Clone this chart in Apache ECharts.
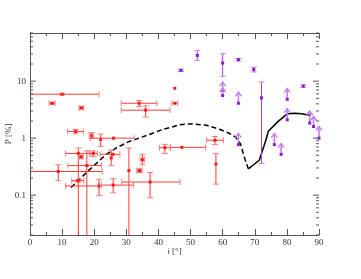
<!DOCTYPE html>
<html><head><meta charset="utf-8">
<script src="https://cdn.jsdelivr.net/npm/echarts@6/dist/echarts.min.js"></script>
<style>html,body{margin:0;padding:0;background:#fff;}#c{width:361px;height:279px;}</style>
</head><body><div id="c"></div>
<script>
// ---- red measurements: inclination i, polarisation P, error bounds (null = none)
const redI   = [10.0, 6.9, 16.0, 34.0, 36.0, 45.1, 45.1, 14.2, 19.1, 22.0, 26.0, 15.05, 15.9, 19.7, 17.7, 8.8, 15.0, 21.5, 25.9, 37.4, 30.8, 35.0, 34.1, 42.0, 47.3, 57.6, 57.9, 25.3, 25.8];
const redP   = [5.9, 4.1, 3.4, 4.1, 3.1, 7.5, 4.1, 1.31, 1.1, 0.95, 1.0, 0.54, 0.47, 0.54, 0.33, 0.26, 0.18, 0.145, 0.15, 0.17, 0.27, 0.42, 0.27, 0.68, 0.69, 0.92, 0.35, 0.45, 0.52];
const redILo = [-1.5, 6.0, 15.3, 28.4, 28.4, null, 44.2, 11.7, 18.5, null, 18.8, 11.1, 15.3, 18.5, 11.8, -4.5, 13.0, 11.1, 22.3, 28.6, null, 34.3, 33.3, 40.3, 43.7, 55.0, null, null, 21.8];
const redIHi = [21.5, 7.8, 16.7, 39.5, 43.6, null, 46.0, 16.6, 19.7, null, 32.5, 18.7, 16.5, 21.0, 22.3, 22.5, 16.8, 21.5, 32.2, 46.7, null, 35.7, 34.9, 43.7, 54.7, 60.2, null, null, 28.0];
const redPLo = [5.7, 3.95, 3.25, 3.6, 2.35, null, null, 1.2, 1.0, 0.72, null, 0.001, 0.44, 0.48, 0.001, 0.18, 0.17, 0.098, 0.11, 0.09, 0.001, 0.34, 0.25, 0.54, null, 0.77, 0.156, 0.33, null];
const redPHi = [6.1, 4.25, 3.55, 4.6, 3.7, null, null, 1.42, 1.25, 1.18, null, 0.67, 0.5, 0.6, 0.6, 0.34, 0.19, 0.19, 0.195, 0.25, 0.67, 0.52, 0.29, 0.78, null, 1.07, 0.54, 0.62, null];

// ---- purple measurements with error bars
const purI   = [47.0, 52.1, 60.0, 64.9, 69.7, 72.1, 85.1];
const purP   = [15.5, 28.3, 20.8, 23.8, 16.0, 5.1, 8.2];
const purPLo = [14.8, 23.2, 12.2, 22.6, 14.5, 0.36, 7.8];
const purPHi = [16.2, 34.6, 30.3, 25.0, 17.6, 9.7, 8.6];

// ---- purple lower limits (base value, arrow tip value)
const limI   = [60.0, 60.0, 64.9, 80.1, 80.1, 87.1, 88.3, 90.0, 64.9, 76.1, 78.2];
const limP   = [6.9, 5.6, 4.1, 4.8, 2.1, 1.84, 1.6, 1.0, 0.77, 0.77, 0.52];
const limTop = [9.6, 7.6, 6.4, 7.4, 3.3, 3.0, 2.4, 1.6, 1.2, 1.2, 0.8];

// ---- model curves
const dashI = [12.8, 17.6, 23.4, 27.0, 31.0, 36.0, 41.0, 46.7, 50.0, 55.0, 59.2, 62.0, 64.0, 65.5, 67.0, 68.0];
const dashP = [0.136, 0.25, 0.5, 0.68, 0.88, 1.1, 1.4, 1.72, 1.78, 1.68, 1.42, 1.22, 1.05, 0.8, 0.42, 0.29];
const solidI = [68.0, 71.4, 73.5, 74.2, 77.3, 80.1, 82.5, 84.5, 86.7, 87.5];
const solidP = [0.29, 0.41, 0.94, 1.32, 1.97, 2.67, 2.73, 2.68, 2.55, 2.55];

// ---- axis ticks
const xTickLabels = [0, 10, 20, 30, 40, 50, 60, 70, 80, 90];
const yTickLabels = [0.1, 1, 10];
const yMinorTicks = [0.02,0.03,0.04,0.05,0.06,0.07,0.08,0.09,0.2,0.3,0.4,0.5,0.6,0.7,0.8,0.9,2,3,4,5,6,7,8,9,20,30,40,50,60,70];

const FONT = 'Liberation Serif';
const AX = '#555';

function nz(v, d){ return v === null ? d : v; }
const redData = redI.map((v,k)=>[v, redP[k], nz(redILo[k],v), nz(redIHi[k],v), nz(redPLo[k],redP[k]), nz(redPHi[k],redP[k])]);
const purData = purI.map((v,k)=>[v, purP[k], v, v, purPLo[k], purPHi[k]]);
const limData = limI.map((v,k)=>[v, limP[k], limTop[k]]);
const tickData = yTickLabels.map(v=>[0, v, 1]).concat(yMinorTicks.map(v=>[0, v, 0]));

function errRender(barColor, capColor, dotColor){
  return function(params, api){
    const r = params.coordSys;
    const L = r.x, R = r.x + r.width, T = r.y, B = r.y + r.height;
    const i = api.value(0), p = api.value(1);
    const il = api.value(2), ih = api.value(3), pl = api.value(4), ph = api.value(5);
    const c = api.coord([i, p]);
    const ch = [];
    const cap = 3;
    const st = {stroke: barColor, lineWidth: 1};
    const cst = {stroke: capColor, lineWidth: 1};
    if (il !== ih) {
      let x1 = api.coord([il, p])[0], x2 = api.coord([ih, p])[0];
      const c1 = x1 >= L, c2 = x2 <= R;
      x1 = Math.max(L, x1); x2 = Math.min(R, x2);
      ch.push({type:'line', shape:{x1:x1, y1:c[1], x2:x2, y2:c[1]}, style:st});
      if (c1) ch.push({type:'line', shape:{x1:x1, y1:c[1]-cap, x2:x1, y2:c[1]+cap}, style:cst});
      if (c2) ch.push({type:'line', shape:{x1:x2, y1:c[1]-cap, x2:x2, y2:c[1]+cap}, style:cst});
    }
    if (pl !== ph) {
      let y1 = api.coord([i, pl])[1], y2 = api.coord([i, ph])[1];
      const c1 = y1 <= B, c2 = y2 >= T;
      y1 = Math.min(B, y1); y2 = Math.max(T, y2);
      ch.push({type:'line', shape:{x1:c[0], y1:y1, x2:c[0], y2:y2}, style:st});
      if (c1) ch.push({type:'line', shape:{x1:c[0]-cap, y1:y1, x2:c[0]+cap, y2:y1}, style:cst});
      if (c2) ch.push({type:'line', shape:{x1:c[0]-cap, y1:y2, x2:c[0]+cap, y2:y2}, style:cst});
    }
    ch.push({type:'rect', shape:{x:c[0]-1.5, y:c[1]-1.5, width:3, height:3}, style:{fill: dotColor}});
    return {type:'group', children: ch};
  };
}

function limRender(params, api){
  const i = api.value(0), p = api.value(1), t = api.value(2);
  const b = api.coord([i, p]), e = api.coord([i, t]);
  const col = '#c27ff0';
  return {type:'group', children:[
    {type:'line', shape:{x1:b[0], y1:b[1], x2:e[0], y2:e[1]}, style:{stroke:col, lineWidth:1.6}},
    {type:'polyline', shape:{points:[[e[0]-3, e[1]+4],[e[0], e[1]],[e[0]+3, e[1]+4]]}, style:{stroke:col, lineWidth:1.4, fill:null}},
    {type:'rect', shape:{x:b[0]-1.5, y:b[1]-1.5, width:3, height:3}, style:{fill:'#9418d6'}}
  ]};
}

function tickRender(params, api){
  const r = params.coordSys;
  const y = api.coord([0, api.value(1)])[1];
  const len = api.value(2) ? 6 : 3;
  const st = {stroke: AX, lineWidth: 1};
  if (y < r.y - 0.5 || y > r.y + r.height + 0.5) return null;
  return {type:'group', children:[
    {type:'line', shape:{x1:r.x, y1:y, x2:r.x+len, y2:y}, style:st},
    {type:'line', shape:{x1:r.x+r.width, y1:y, x2:r.x+r.width-len, y2:y}, style:st}
  ]};
}

const xCommon = {
  type:'value', min:0, max:90, interval:10,
  axisLine:{show:true, lineStyle:{color:AX, width:1}},
  axisTick:{show:true, inside:true, length:6, lineStyle:{color:AX}},
  minorTick:{show:true, splitNumber:2, length:3, lineStyle:{color:AX}},
  splitLine:{show:false}
};

const chart = echarts.init(document.getElementById('c'), null, {renderer:'canvas'});
chart.setOption({
  backgroundColor:'#fff',
  animation:false,
  grid:{left:30, right:42, top:33, bottom:44, containLabel:false, outerBoundsMode:'none'},
  xAxis:[
    Object.assign({}, xCommon, {
      position:'bottom',
      name:'{it|i} [°]', nameLocation:'middle', nameGap:12, nameMoveOverlap:false,
      nameTextStyle:{fontFamily:FONT, fontSize:9, color:'#333', rich:{it:{fontFamily:FONT, fontStyle:'italic', fontSize:9, color:'#333'}}},
      axisLabel:{show:true, fontFamily:FONT, fontSize:9, color:'#333', margin:3,
        formatter: v => xTickLabels.indexOf(v) >= 0 ? String(v) : ''}
    }),
    Object.assign({}, xCommon, {position:'top', axisLabel:{show:false}})
  ],
  yAxis:[
    {type:'log', logBase:10, min:0.02, max:70, position:'left',
      name:'P [%]', nameLocation:'middle', nameGap:17, nameMoveOverlap:false,
      nameTextStyle:{fontFamily:FONT, fontSize:9, color:'#333'},
      axisLine:{show:true, lineStyle:{color:AX, width:1}},
      axisTick:{show:false}, minorTick:{show:false}, splitLine:{show:false},
      axisLabel:{show:true, fontFamily:FONT, fontSize:9, color:'#333', margin:4,
        formatter: v => { for (const t of yTickLabels) if (Math.abs(v - t) < t*1e-6) return String(t); return ''; }}
    },
    {type:'log', logBase:10, min:0.02, max:70, position:'right',
      axisLine:{show:true, lineStyle:{color:AX, width:1}},
      axisTick:{show:false}, minorTick:{show:false}, splitLine:{show:false}, axisLabel:{show:false}}
  ],
  series:[
    {type:'line', data: dashI.map((v,k)=>[v, dashP[k]]), showSymbol:false, symbol:'none',
      lineStyle:{color:'#000', width:1.5, type:[5,3]}, z:3},
    {type:'line', data: solidI.map((v,k)=>[v, solidP[k]]), showSymbol:false, symbol:'none',
      lineStyle:{color:'#000', width:1.5}, z:3},
    {type:'custom', renderItem: errRender('#ff3a3a', '#ff7a7a', '#ff1a1a'), data: redData, z:4, silent:true},
    {type:'custom', renderItem: errRender('#a93ae6', '#c27ff0', '#8e14d0'), data: purData, z:4, silent:true},
    {type:'custom', renderItem: limRender, data: limData, z:4, silent:true},
    {type:'custom', renderItem: tickRender, data: tickData, z:5, silent:true}
  ]
});
</script>
</body></html>
